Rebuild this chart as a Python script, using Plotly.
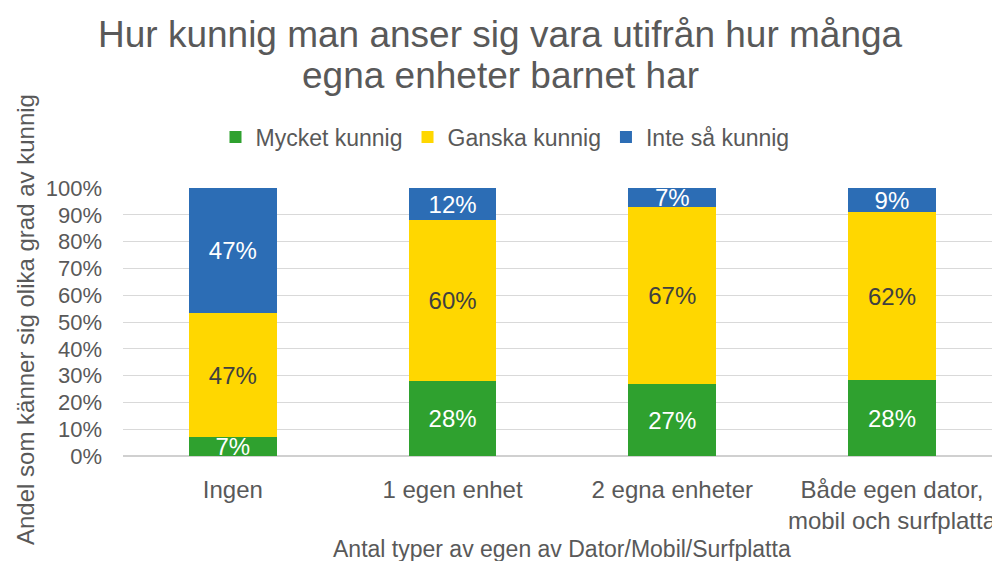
import plotly.graph_objects as go

categories = ["Ingen", "1 egen enhet", "2 egna enheter", "Både egen dator,<br>mobil och surfplatta"]
series_names = ["Mycket kunnig", "Ganska kunnig", "Inte så kunnig"]
mycket = [7, 28, 27, 28]
ganska = [47, 60, 67, 62]
inte = [47, 12, 7, 9]
y_ticks = [0, 10, 20, 30, 40, 50, 60, 70, 80, 90, 100]

title_lines = ["Hur kunnig man anser sig vara utifrån hur många", "egna enheter barnet har"]
x_title = "Antal typer av egen av Dator/Mobil/Surfplatta"
y_title = "Andel som känner sig olika grad av kunnig"

colors = ["#2FA12F", "#FFD700", "#2C6DB5"]
text_colors = ["white", "#404040", "white"]
FONT = "Liberation Sans, Arial, sans-serif"
GREY = "#595959"

fig = go.Figure()
for name, vals, col, tcol in zip(series_names, [mycket, ganska, inte], colors, text_colors):
    fig.add_trace(go.Bar(
        name=name, x=categories, y=vals,
        marker=dict(color=col, line=dict(width=0)),
        text=[f"{v}%" for v in vals], textposition="inside", insidetextanchor="middle",
        textfont=dict(size=24, color=tcol, family=FONT),
        hoverinfo="skip",
    ))

W, H = 992, 561
L, R, T, B = 123, 0, 188, 105
pw, ph = W - L - R, H - T - B

def px(x):
    return (x - L) / pw

def py(y):
    return (H - B - y) / ph

fig.update_layout(
    width=W, height=H, barmode="stack", barnorm="percent", bargap=0.6,
    margin=dict(l=L, r=R, t=T, b=B, autoexpand=False),
    paper_bgcolor="white", plot_bgcolor="white",
    font=dict(family=FONT, color=GREY, size=22),
    uniformtext=dict(minsize=24, mode="show"),
    showlegend=True,
    legend=dict(orientation="h", x=px(505), xanchor="center", y=py(137), yanchor="middle",
                font=dict(size=23, color=GREY), itemwidth=30, traceorder="normal"),
    xaxis=dict(range=[-0.5, -0.5 + pw / 219.7], showgrid=False, showline=True,
               linecolor="#d0d0d0", linewidth=1, ticks="", tickfont=dict(size=24, color=GREY),
               ticklabelstandoff=12, fixedrange=True),
    yaxis=dict(range=[0, 100], tickvals=y_ticks, ticktext=[f"{v}%" for v in y_ticks],
               showgrid=True, gridcolor="#d9d9d9", gridwidth=1, zeroline=True,
               zerolinecolor="#d0d0d0", showline=False, ticks="",
               tickfont=dict(size=22, color=GREY), ticklabelstandoff=20, fixedrange=True),
    annotations=[
        dict(text=title_lines[0], x=px(500), y=py(34), xref="paper", yref="paper",
             xanchor="center", yanchor="middle", showarrow=False, font=dict(size=37, color=GREY)),
        dict(text=title_lines[1], x=px(500), y=py(75), xref="paper", yref="paper",
             xanchor="center", yanchor="middle", showarrow=False, font=dict(size=37, color=GREY)),
        dict(text=x_title, x=px(562), y=py(549), xref="paper", yref="paper",
             xanchor="center", yanchor="middle", showarrow=False, font=dict(size=23, color=GREY)),
        dict(text=y_title, x=px(25), y=py(320), xref="paper", yref="paper", textangle=-90,
             xanchor="center", yanchor="middle", showarrow=False, font=dict(size=24, color=GREY)),
    ],
)

fig.write_html("out.html", config={"displayModeBar": False},
               post_script="document.body.style.margin='0';document.body.style.overflow='hidden';")
